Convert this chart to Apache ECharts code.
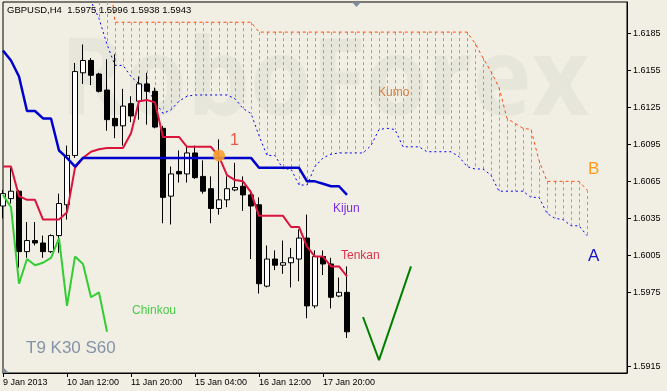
<!DOCTYPE html>
<html><head><meta charset="utf-8">
<script src="https://cdn.jsdelivr.net/npm/echarts@6/dist/echarts.min.js"></script>
<style>html,body{margin:0;padding:0;background:#F1EFE3}#c{width:667px;height:391px}</style>
</head><body><div id="c"></div>
<script>
// ---------- data ----------
const headerText = 'GBPUSD,H4  1.5975 1.5996 1.5938 1.5943';
const xTickLabels = ['9 Jan 2013', '10 Jan 12:00', '11 Jan 20:00', '15 Jan 04:00', '16 Jan 12:00', '17 Jan 20:00'];
const barsPerXTick = 8;
const totalSlots = 79; // bars + future cloud area
const yTickValues = [1.5915, 1.5975, 1.6005, 1.6035, 1.6065, 1.6095, 1.6125, 1.6155, 1.6185];
const yMin = 1.59096, yMax = 1.62104;

const opens  = [1.6045,1.6051,1.6057,1.6008,1.6017,1.6015,1.6008,1.6021,1.6046,1.6086,1.6153,1.6163,1.6152,1.6139,1.6116,1.6110,1.6128,1.6130,1.6144,1.6138,1.6108,1.6053,1.6073,1.6071,1.6088,1.6069,1.6059,1.6043,1.6050,1.6058,1.6061,1.6054,1.6046,1.5980,1.6002,1.5997,1.5999,1.6002,1.6019,1.5964,1.6004,1.5998,1.5972,1.5975];
const closes = [1.6055,1.6057,1.6008,1.6017,1.6015,1.6008,1.6021,1.6047,1.6086,1.6154,1.6163,1.6151,1.6138,1.6115,1.6110,1.6126,1.6118,1.6144,1.6138,1.6109,1.6052,1.6071,1.6071,1.6088,1.6068,1.6057,1.6043,1.6050,1.6059,1.6060,1.6054,1.6045,1.5982,1.6002,1.5997,1.5999,1.6003,1.6019,1.5964,1.6004,1.5998,1.5971,1.5975,1.5943];
const lows   = [1.6035,1.6047,1.5995,1.6003,1.6013,1.6003,1.6007,1.6007,1.6034,1.6084,1.6144,1.6143,1.6137,1.6106,1.6100,1.6094,1.6113,1.6115,1.6111,1.6108,1.6031,1.6030,1.6064,1.6064,1.6067,1.6055,1.6031,1.6038,1.6044,1.6057,1.6041,1.6002,1.5974,1.5979,1.5993,1.5990,1.5979,1.5984,1.5954,1.5962,1.5989,1.5962,1.5971,1.5938];
const highs  = [1.6058,1.6076,1.6058,1.6032,1.6032,1.6021,1.6022,1.6055,1.6094,1.6161,1.6176,1.6165,1.6153,1.6164,1.6168,1.6140,1.6134,1.6150,1.6153,1.6141,1.6110,1.6077,1.6090,1.6094,1.6094,1.6082,1.6069,1.6099,1.6069,1.6080,1.6069,1.6058,1.6052,1.6013,1.6009,1.6017,1.6011,1.6026,1.6038,1.6009,1.6009,1.6003,1.5987,1.5996];

const tenkan = [1.6077,1.6077,1.6053,1.6050,1.6050,1.6034,1.6034,1.6034,1.6040,1.6076,1.6084,1.6089,1.6091,1.6092,1.6092,1.6092,1.6104,1.6130,1.6131,1.6129,1.6101,1.6101,1.6101,1.6093,1.6093,1.6093,1.6093,1.6085,1.6070,1.6066,1.6065,1.6056,1.6037,1.6037,1.6037,1.6037,1.6028,1.6028,1.6012,1.6004,1.6004,1.5996,1.5996,1.5988];
const kijun  = [1.6171,1.6163,1.6150,1.6122,1.6122,1.6116,1.6116,1.6090,1.6084,1.6077,1.6084,1.6084,1.6084,1.6084,1.6084,1.6084,1.6084,1.6084,1.6084,1.6084,1.6084,1.6084,1.6084,1.6084,1.6084,1.6084,1.6084,1.6084,1.6084,1.6084,1.6084,1.6084,1.6076,1.6076,1.6076,1.6076,1.6076,1.6076,1.6065,1.6065,1.6063,1.6061,1.6061,1.6054];
const chinkou = [1.6054,1.6044,1.5982,1.6002,1.5997,1.5999,1.6003,1.6019,1.5964,1.6004,1.5998,1.5971,1.5975,1.5943];
const senkouA = [null,null,null,null,null,null,null,null,null,null,
  1.6223,1.6211,1.6197,1.6176,1.6159,1.6159,1.6150,1.6144,1.6140,1.6130,1.6120,1.6123,1.6130,1.6134,1.6135,1.6135,1.6135,1.6135,1.6135,1.6132,
  1.6124,1.6120,1.6102,1.6086,1.6086,1.6075,1.6075,1.6062,1.6062,1.6077,1.6084,1.6087,1.6088,1.6088,1.6088,1.6088,1.6094,1.6107,1.6108,1.6107,1.6093,1.6093,1.6093,1.6089,1.6089,1.6089,1.6089,1.6085,1.6077,1.6075,1.6075,1.6070,1.6057,1.6057,1.6057,1.6057,1.6052,1.6052,1.6039,1.6035,1.6034,1.6029,1.6029,1.6021];
const senkouB = [null,null,null,null,null,null,null,null,null,null,null,null,
  1.6250,1.6250,1.6194,1.6194,1.6194,1.6194,1.6194,1.6194,1.6194,1.6194,1.6194,1.6194,1.6194,1.6194,1.6194,1.6194,1.6194,1.6194,1.6194,1.6194,
  1.6186,1.6186,1.6186,1.6186,1.6186,1.6186,1.6186,1.6186,1.6186,1.6186,1.6186,1.6186,1.6186,1.6186,1.6186,1.6186,1.6186,1.6186,1.6186,1.6186,1.6186,1.6186,1.6186,1.6186,1.6186,1.6186,1.6186,
  1.6177,1.6165,1.6154,1.6141,1.6116,1.6112,1.6108,1.6107,1.6082,1.6065,1.6065,1.6065,1.6065,1.6065,1.6058];
const forecastV = [[45, 1.5955], [47, 1.5920], [51, 1.5996]];
const signalPoint = [[27, 1.6086]];
const lastClose = 1.5943;

// ---------- build ----------
const categories = Array.from({length: totalSlots}, (_, i) => String(i));
const candleData = opens.map((o, i) => [o, closes[i], lows[i], highs[i]]);
const cloudData = [];
senkouA.forEach((a, i) => { const b = senkouB[i]; if (a != null && b != null) cloudData.push([i, a, b]); });
const FONT = '"Liberation Sans", Arial, sans-serif';

const chart = echarts.init(document.getElementById('c'), null, {renderer: 'canvas'});
chart.setOption({
  animation: false,
  backgroundColor: '#F1EFE3',
  textStyle: {fontFamily: FONT},
  grid: {left: 3, right: 40, top: 2, bottom: 18, show: true, borderColor: '#000', borderWidth: 1, backgroundColor: 'transparent'},
  xAxis: {
    type: 'category', data: categories, boundaryGap: false,
    axisLine: {show: true, lineStyle: {color: '#000', width: 1}},
    axisTick: {show: true, length: 4, lineStyle: {color: '#000'},
      interval: (i) => i % barsPerXTick === 0 && i / barsPerXTick < xTickLabels.length},
    axisLabel: {show: true, align: 'left', margin: 5, fontSize: 9, color: '#000', fontFamily: FONT,
      interval: (i) => i % barsPerXTick === 0 && i / barsPerXTick < xTickLabels.length,
      formatter: (v, i) => xTickLabels[i / barsPerXTick] || ''},
    splitLine: {show: false}
  },
  yAxis: {
    type: 'value', position: 'right', min: yMin, max: yMax, scale: true,
    axisLine: {show: true, lineStyle: {color: '#000', width: 1}},
    axisTick: {show: true, length: 4, inside: false, lineStyle: {color: '#000'}, customValues: yTickValues},
    axisLabel: {show: true, margin: 6, fontSize: 9, color: '#000', fontFamily: FONT, customValues: yTickValues,
      formatter: (v) => v.toFixed(4)},
    splitLine: {show: false}
  },
  graphic: [
    {type: 'text', x: 60, y: 30, scaleX: 0.92, z: -10, silent: true,
      style: {text: 'RoboForex', font: 'bold 108px "Open Sans", sans-serif', fill: '#E7E6DB'}},
    {type: 'text', left: 7, top: 5, z: 100, silent: true,
      style: {text: headerText, font: '9.5px ' + FONT, fill: '#000'}},
    {type: 'text', left: 378, top: 87, z: 100, silent: true,
      style: {text: 'Kumo', font: '12px ' + FONT, fill: '#D28040'}},
    {type: 'text', left: 230, top: 133, z: 100, silent: true,
      style: {text: '1', font: '16px ' + FONT, fill: '#E45A4A'}},
    {type: 'text', left: 588, top: 161, z: 100, silent: true,
      style: {text: 'B', font: '17px ' + FONT, fill: '#FF9A1A'}},
    {type: 'text', left: 588, top: 248, z: 100, silent: true,
      style: {text: 'A', font: '17px ' + FONT, fill: '#1414C8'}},
    {type: 'text', left: 333, top: 203, z: 100, silent: true,
      style: {text: 'Kijun', font: '12px ' + FONT, fill: '#7A2EE0'}},
    {type: 'text', left: 341, top: 250, z: 100, silent: true,
      style: {text: 'Tenkan', font: '12px ' + FONT, fill: '#E0304A'}},
    {type: 'text', left: 132, top: 305, z: 100, silent: true,
      style: {text: 'Chinkou', font: '12px ' + FONT, fill: '#4CCB4C'}},
    {type: 'text', left: 26, top: 340, z: 100, silent: true,
      style: {text: 'T9 K30 S60', font: '17px ' + FONT, fill: '#8494A8'}},
    {type: 'polygon', z: 100, silent: true, shape: {points: [[352, 2], [361, 2], [356.5, 7]]}, style: {fill: '#7E8C9A'}},
    {type: 'polygon', z: 100, silent: true, shape: {points: [[3, 367], [3, 373], [9, 373]]}, style: {fill: '#7E8C9A'}}
  ],
  series: [
    {
      name: 'cloud', type: 'custom', data: cloudData, z: 1, silent: true,
      encode: {x: 0, y: [1, 2]},
      renderItem: (params, api) => {
        const k = api.value(0);
        const p1 = api.coord([k, api.value(1)]);
        const p2 = api.coord([k, api.value(2)]);
        const cs = params.coordSys;
        const clampY = (y) => Math.max(cs.y, Math.min(cs.y + cs.height, y));
        const x = Math.round(p1[0]) + 0.5;
        return {type: 'line', silent: true,
          shape: {x1: x, y1: clampY(p2[1]), x2: x, y2: clampY(p1[1])},
          style: {stroke: '#F2825A', lineWidth: 1, lineDash: [3, 3]}};
      }
    },
    {name: 'Senkou A', type: 'line', data: senkouA, z: 2, symbol: 'none', clip: true, silent: true,
      lineStyle: {color: '#0000FF', width: 1, type: [2, 3]}},
    {name: 'Senkou B', type: 'line', data: senkouB, z: 2, symbol: 'none', clip: true, silent: true,
      lineStyle: {color: '#FF4A10', width: 1, type: [3, 3]}},
    {
      name: 'GBPUSD', type: 'candlestick', data: candleData, z: 3, barWidth: 5, clip: true,
      itemStyle: {color: '#FFFFFF', color0: '#000000', borderColor: '#000000', borderColor0: '#000000', borderWidth: 1},
      markLine: {
        silent: true, symbol: ['none', 'none'], animation: false,
        lineStyle: {color: '#7B8B9E', width: 1, type: 'solid'},
        label: {show: true, position: 'end', distance: 2, formatter: () => lastClose.toFixed(4),
          color: '#fff', backgroundColor: '#000', padding: [2, 3, 1, 3], fontSize: 10, fontFamily: FONT},
        data: [{yAxis: lastClose}]
      }
    },
    {name: 'Chinkou', type: 'line', data: chinkou, z: 4, symbol: 'none', silent: true,
      lineStyle: {color: '#32CD32', width: 2}},
    {name: 'Tenkan', type: 'line', data: tenkan, z: 5, symbol: 'none', silent: true,
      lineStyle: {color: '#DC143C', width: 2}},
    {name: 'Kijun', type: 'line', data: kijun, z: 5, symbol: 'none', silent: true,
      lineStyle: {color: '#0000CD', width: 2.5}},
    {name: 'Signal', type: 'scatter', data: signalPoint, z: 6, symbol: 'circle', symbolSize: 12, silent: true,
      itemStyle: {color: '#F7A030', opacity: 0.9}},
    {name: 'Forecast', type: 'line', data: forecastV, z: 6, symbol: 'none', silent: true,
      lineStyle: {color: '#008000', width: 2}}
  ]
});
</script>
</body></html>
